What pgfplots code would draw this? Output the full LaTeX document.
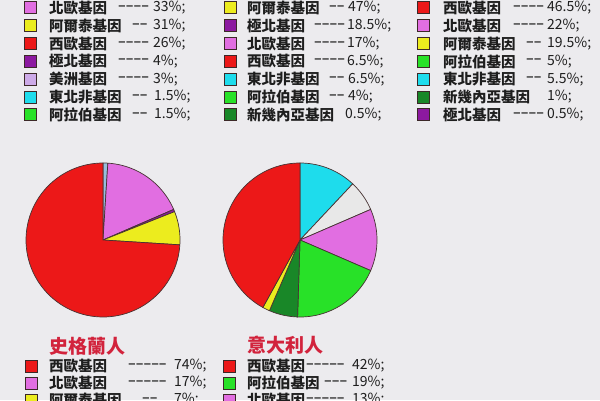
\documentclass[border=0pt]{standalone}
\usepackage{pgfplots}
\pgfplotsset{compat=1.18}
\usepackage{fontspec}
\newfontfamily\cjk{Noto Sans CJK TC}
\definecolor{bgcol}{RGB}{236,235,238}
\definecolor{txt}{RGB}{30,30,30}
\definecolor{ttl}{RGB}{210,35,60}
\definecolor{edge}{RGB}{70,50,50}
\definecolor{sqedge}{RGB}{60,40,40}
\definecolor{cRed}{RGB}{236,24,24}
\definecolor{cPink}{RGB}{225,110,225}
\definecolor{cYel}{RGB}{236,236,30}
\definecolor{cPur}{RGB}{140,25,160}
\definecolor{cLav}{RGB}{205,170,232}
\definecolor{cCyan}{RGB}{30,220,236}
\definecolor{cGrn}{RGB}{40,225,40}
\definecolor{cDkG}{RGB}{25,135,40}
\definecolor{cSteel}{RGB}{150,190,220}
\definecolor{cGray}{RGB}{232,232,232}
\newcommand{\nsize}{\fontsize{15.5}{16}\selectfont}
\tikzset{
  namefont/.style={font=\cjk\bfseries\nsize, text=txt, inner sep=0pt},
  dashfont/.style={font=\cjk\bfseries\fontsize{14}{15}\selectfont, text=txt!80, inner sep=0pt},
  numfont/.style={font=\cjk\fontsize{14}{15}\selectfont, text=txt, inner sep=0pt},
}
% legend row: square x, y, colour, name x, name, dash x, dashes, number x, number
\newcommand{\row}[9]{%
  \addplot[only marks, mark=square*, mark size=6, mark options={fill=#3, draw=sqedge, line width=1pt}, forget plot] coordinates {(#1,#2)};
  \node[namefont, anchor=west] at (axis cs:#4,#2) {#5};
  \node[dashfont, anchor=west] at (axis cs:#6,#2) {#7};
  \node[numfont, anchor=west] at (axis cs:#8,#2) {#9};
}
% pie slice: centre x, centre y, cumulative start %, cumulative end %, colour
\newcommand{\slice}[5]{%
  \addplot[fill=#5, draw=edge, line width=0.7pt, domain=90-3.6*#4:90-3.6*#3, samples=90, variable=\t, forget plot]
    ({#1+77*cos(\t)}, {#2+77*sin(\t)}) -- (axis cs:#1,#2) -- cycle;
}
\begin{document}
\begin{tikzpicture}
\useasboundingbox (0,0) rectangle (600pt,400pt);
\clip (0,0) rectangle (600pt,400pt);
\fill[bgcol] (0,0) rectangle (600pt,400pt);
\begin{axis}[
  at={(0,0)}, anchor=south west,
  width=600pt, height=400pt, scale only axis,
  xmin=0, xmax=600, ymin=0, ymax=400,
  hide axis, clip=false,
]
% ---- column 1
\row{30}{392}{cPink}{49}{北歐基因}{118}{––––}{153}{33\%;}
\row{30}{374.2}{cYel}{49}{阿爾泰基因}{132}{––}{153}{31\%;}
\row{30}{356.4}{cRed}{49}{西歐基因}{118}{––––}{153}{26\%;}
\row{30}{338.6}{cPur}{49}{極北基因}{118}{––––}{153}{4\%;}
\row{30}{320.8}{cLav}{49}{美洲基因}{118}{––––}{153}{3\%;}
\row{30}{303}{cCyan}{49}{東北非基因}{132}{––}{154}{1.5\%;}
\row{30}{285.2}{cGrn}{49}{阿拉伯基因}{132}{––}{154}{1.5\%;}
% ---- column 2
\row{230}{392}{cYel}{247}{阿爾泰基因}{329}{––}{348}{47\%;}
\row{230}{374.2}{cPur}{247}{極北基因}{314}{––––}{347}{18.5\%;}
\row{230}{356.4}{cPink}{247}{北歐基因}{314}{––––}{347}{17\%;}
\row{230}{338.6}{cRed}{247}{西歐基因}{314}{––––}{347}{6.5\%;}
\row{230}{320.8}{cCyan}{247}{東北非基因}{329}{––}{348}{6.5\%;}
\row{230}{303}{cGrn}{247}{阿拉伯基因}{329}{––}{348}{4\%;}
\row{230}{285.2}{cDkG}{247}{新幾內亞基因}{343}{}{345}{0.5\%;}
% ---- column 3
\row{423}{392}{cRed}{443}{西歐基因}{513}{––––}{547}{46.5\%;}
\row{423}{374.2}{cPink}{443}{北歐基因}{513}{––––}{547}{22\%;}
\row{423}{356.4}{cYel}{443}{阿爾泰基因}{526}{––}{547}{19.5\%;}
\row{423}{338.6}{cGrn}{443}{阿拉伯基因}{526}{––}{547}{5\%;}
\row{423}{320.8}{cCyan}{443}{東北非基因}{526}{––}{547}{5.5\%;}
\row{423}{303}{cDkG}{443}{新幾內亞基因}{547}{}{547}{1\%;}
\row{423}{285.2}{cPur}{443}{極北基因}{513}{––––}{547}{0.5\%;}
% ---- pie 1 (Scots): 1, 17, 0.5, 7, 74 (+0.5)
\slice{103}{160}{0}{1}{cSteel}
\slice{103}{160}{1}{18.5}{cPink}
\slice{103}{160}{18.5}{19}{cPur}
\slice{103}{160}{19}{26}{cYel}
\slice{103}{160}{26}{100}{cRed}
% ---- pie 2 (Italians): 12, 6.5, 13, 19, 6, 1.5, 42
\slice{300}{160}{0}{12}{cCyan}
\slice{300}{160}{12}{18.5}{cGray}
\slice{300}{160}{18.5}{31.5}{cPink}
\slice{300}{160}{31.5}{50.5}{cGrn}
\slice{300}{160}{50.5}{56.5}{cDkG}
\slice{300}{160}{56.5}{58}{cYel}
\slice{300}{160}{58}{100}{cRed}
% ---- bottom legends
\renewcommand{\nsize}{\fontsize{14.5}{15}\selectfont}
\node[font=\cjk\bfseries\fontsize{19}{20}\selectfont, text=ttl, anchor=west, inner sep=0pt] at (axis cs:49,54) {史格蘭人};
\row{31}{34}{cRed}{49}{西歐基因}{128}{–––––}{174}{74\%;}
\row{31}{17}{cPink}{49}{北歐基因}{128}{–––––}{174}{17\%;}
\row{31}{0}{cYel}{49}{阿爾泰基因}{142}{––}{174}{7\%;}
\node[font=\cjk\bfseries\fontsize{19}{20}\selectfont, text=ttl, anchor=west, inner sep=0pt] at (axis cs:247,55) {意大利人};
\row{229}{34}{cRed}{247}{西歐基因}{306}{–––––}{352}{42\%;}
\row{229}{17}{cGrn}{247}{阿拉伯基因}{324}{–––}{352}{19\%;}
\row{229}{0}{cPink}{247}{北歐基因}{306}{–––––}{352}{13\%;}
\end{axis}
\end{tikzpicture}
\end{document}
